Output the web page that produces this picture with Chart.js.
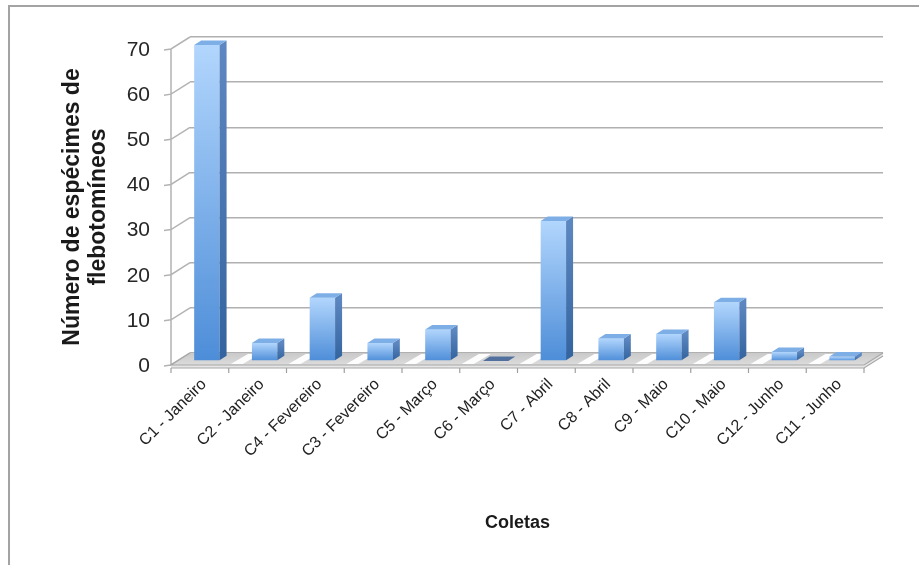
<!DOCTYPE html>
<html>
<head>
<meta charset="utf-8">
<title>Número de espécimes de flebotomíneos por coleta</title>
<script src="https://cdn.jsdelivr.net/npm/chart.js@4.4.0/dist/chart.umd.min.js"></script>
<style>
  html, body { margin: 0; padding: 0; background: #ffffff; }
  #wrap { width: 919px; height: 565px; position: relative; }
  canvas { display: block; }
</style>
</head>
<body>
<div id="wrap"><canvas id="chart" width="919" height="565"></canvas></div>
<script>
// ---- data ----
const categories = [
  'C1 - Janeiro', 'C2 - Janeiro', 'C4 - Fevereiro', 'C3 - Fevereiro',
  'C5 - Março', 'C6 - Março', 'C7 - Abril', 'C8 - Abril',
  'C9 - Maio', 'C10 - Maio', 'C12 - Junho', 'C11 - Junho'
];
const specimens = [70, 4, 14, 4, 7, 0, 31, 5, 6, 13, 2, 1];
const yTicks = [0, 10, 20, 30, 40, 50, 60, 70];
const yTitle = ['Número de espécimes de', 'flebotomíneos'];
const xTitle = 'Coletas';

// ---- 3D look ----
const FONT = "'Liberation Sans', Arial, Helvetica, sans-serif";
const WALL = { dx: -19, dy: 12 };          // back wall -> front edge of floor
const BAR = { fx: -12, fy: 8, dx: 7, dy: -4.5 }; // bar front offset and bar depth

const threeD = {
  id: 'threeD',
  beforeDraw(chart) {
    const { ctx, width, height } = chart;
    ctx.save();
    ctx.fillStyle = '#ffffff';
    ctx.fillRect(0, 0, width, height);
    // outer frame (top and left edges)
    ctx.strokeStyle = '#a3a3a3';
    ctx.lineWidth = 2;
    ctx.beginPath();
    ctx.moveTo(9, height);
    ctx.lineTo(9, 6);
    ctx.lineTo(width, 6);
    ctx.stroke();
    ctx.restore();
  },
  beforeDatasetsDraw(chart) {
    const { ctx, chartArea } = chart;
    const ys = chart.scales.y;
    const xs = chart.scales.x;
    const L = chartArea.left, R = chartArea.right;
    const y0 = ys.getPixelForValue(0);
    const yTop = ys.getPixelForValue(yTicks[yTicks.length - 1]);
    ctx.save();

    // left side wall: diagonal grid lines and ticks
    ctx.strokeStyle = '#b3b3b3';
    ctx.lineWidth = 1.5;
    ctx.beginPath();
    yTicks.forEach(v => {
      const y = ys.getPixelForValue(v);
      ctx.moveTo(L, y);
      ctx.lineTo(L + WALL.dx, y + WALL.dy);
      ctx.lineTo(L + WALL.dx - 7, y + WALL.dy + 1);
    });
    // front vertical axis line
    ctx.moveTo(L + WALL.dx, yTop + WALL.dy);
    ctx.lineTo(L + WALL.dx, y0 + WALL.dy);
    ctx.stroke();

    // floor surface
    const fy = y0 + WALL.dy;
    ctx.beginPath();
    ctx.moveTo(L, y0);
    ctx.lineTo(R, y0);
    ctx.lineTo(R + WALL.dx, fy);
    ctx.lineTo(L + WALL.dx, fy);
    ctx.closePath();
    const fg = ctx.createLinearGradient(0, y0, 0, fy);
    fg.addColorStop(0, '#c9c9c9');
    fg.addColorStop(1, '#dcdcdc');
    ctx.fillStyle = fg;
    ctx.fill();

    // light reflections on the floor between bars
    const meta = chart.getDatasetMeta(0);
    ctx.fillStyle = 'rgba(255,255,255,0.95)';
    meta.data.forEach((el, i) => {
      if (i === 0) return;
      const { x, width: w } = el.getProps(['x', 'width'], true);
      const bx = x - w / 2 - 2;        // back-plane x just left of bar
      ctx.beginPath();
      ctx.moveTo(bx - 14, y0 + 1);
      ctx.lineTo(bx - 2, y0 + 1);
      ctx.lineTo(bx - 2 + WALL.dx * 0.9, fy - 1);
      ctx.lineTo(bx - 14 + WALL.dx * 0.9, fy - 1);
      ctx.closePath();
      ctx.fill();
    });

    // floor front edge (thickness)
    ctx.fillStyle = '#e6e6e6';
    ctx.beginPath();
    ctx.moveTo(L + WALL.dx, fy);
    ctx.lineTo(R + WALL.dx, fy);
    ctx.lineTo(R, y0);
    ctx.lineTo(R, y0 + 3);
    ctx.lineTo(R + WALL.dx, fy + 3);
    ctx.lineTo(L + WALL.dx, fy + 3);
    ctx.closePath();
    ctx.fill();
    ctx.strokeStyle = '#a8a8a8';
    ctx.lineWidth = 1.2;
    ctx.beginPath();
    ctx.moveTo(L, y0);
    ctx.lineTo(L + WALL.dx, fy);
    ctx.lineTo(R + WALL.dx, fy);
    ctx.lineTo(R, y0);
    ctx.moveTo(L + WALL.dx, fy + 3);
    ctx.lineTo(R + WALL.dx, fy + 3);
    ctx.lineTo(R, y0 + 3);
    ctx.stroke();

    // category tick marks along the front edge
    ctx.strokeStyle = '#a0a0a0';
    ctx.lineWidth = 1.2;
    ctx.beginPath();
    const step = xs.getPixelForValue(1) - xs.getPixelForValue(0);
    for (let i = 0; i <= categories.length; i++) {
      const bx = (i < categories.length) ? xs.getPixelForValue(i) - step / 2 : R;
      ctx.moveTo(bx + WALL.dx, fy + 3);
      ctx.lineTo(bx + WALL.dx, fy + 8);
    }
    ctx.stroke();
    ctx.restore();

    // shift the bar fronts toward the viewer
    ctx.save();
    ctx.translate(BAR.fx, BAR.fy);
  },
  afterDatasetsDraw(chart) {
    const { ctx } = chart;
    ctx.restore();
    const meta = chart.getDatasetMeta(0);
    ctx.save();
    meta.data.forEach((el, i) => {
      const { x, y, base, width: w } = el.getProps(['x', 'y', 'base', 'width'], true);
      const xl = x - w / 2 + BAR.fx, xr = x + w / 2 + BAR.fx;
      const yt = y + BAR.fy, yb = base + BAR.fy;
      // side face
      if (yb - yt > 0.5) {
        ctx.beginPath();
        ctx.moveTo(xr, yt);
        ctx.lineTo(xr + BAR.dx, yt + BAR.dy);
        ctx.lineTo(xr + BAR.dx, yb + BAR.dy);
        ctx.lineTo(xr, yb);
        ctx.closePath();
        const sg = ctx.createLinearGradient(0, yt, 0, yb);
        sg.addColorStop(0, '#5d87c0');
        sg.addColorStop(1, '#33649f');
        ctx.fillStyle = sg;
        ctx.fill();
      }
      // top face
      ctx.beginPath();
      ctx.moveTo(xl, yt);
      ctx.lineTo(xl + BAR.dx, yt + BAR.dy);
      ctx.lineTo(xr + BAR.dx, yt + BAR.dy);
      ctx.lineTo(xr, yt);
      ctx.closePath();
      ctx.fillStyle = (specimens[i] === 0) ? '#51709e' : '#7eaee6';
      ctx.fill();
    });
    ctx.restore();
  },
  afterDraw(chart) {
    const { ctx, chartArea } = chart;
    const ys = chart.scales.y;
    ctx.save();
    ctx.fillStyle = '#1a1a1a';
    ctx.textAlign = 'center';
    ctx.textBaseline = 'middle';
    // vertical axis title, centred on the front axis
    const midY = (ys.getPixelForValue(0) + ys.getPixelForValue(70)) / 2 + WALL.dy;
    ctx.font = 'bold 23px ' + FONT;
    ctx.translate(73, midY);
    ctx.rotate(-Math.PI / 2);
    ctx.fillText(yTitle[0], 0, 0);
    ctx.fillText(yTitle[1], 0, 26);
    ctx.restore();
    // horizontal axis title, centred on the floor front edge
    ctx.save();
    ctx.fillStyle = '#1a1a1a';
    ctx.textAlign = 'center';
    ctx.textBaseline = 'middle';
    ctx.font = 'bold 18px ' + FONT;
    ctx.fillText(xTitle, (chartArea.left + chartArea.right) / 2 + WALL.dx, 523);
    ctx.restore();
  }
};

new Chart(document.getElementById('chart'), {
  type: 'bar',
  data: {
    labels: categories,
    datasets: [{
      data: specimens,
      clip: false,
      borderWidth: 0,
      barPercentage: 0.44,
      categoryPercentage: 1,
      backgroundColor(c) {
        const chart = c.chart;
        if (!chart.chartArea || c.type !== 'data') return '#6da6e8';
        const ys = chart.scales.y;
        const top = ys.getPixelForValue(specimens[c.dataIndex]);
        const base = ys.getPixelForValue(0);
        const g = chart.ctx.createLinearGradient(0, top, 0, Math.max(base, top + 1));
        g.addColorStop(0, '#b2d6fd');
        g.addColorStop(1, '#4d8dd8');
        return g;
      }
    }]
  },
  options: {
    responsive: false,
    animation: false,
    events: [],
    layout: { padding: { left: 0, top: 37, right: 36, bottom: 0 } },
    plugins: { legend: { display: false }, tooltip: { enabled: false } },
    scales: {
      x: {
        grid: { display: false },
        border: { display: false },
        ticks: {
          autoSkip: false,
          minRotation: 45,
          maxRotation: 45,
          labelOffset: -15,
          padding: 14,
          color: '#222222',
          font: { family: FONT, size: 16 }
        },
        afterFit(s) {
          s.height = 212;
          s.paddingLeft = 0; s.paddingRight = 0;
          s.paddingTop = 0; s.paddingBottom = 0;
        }
      },
      y: {
        min: 0,
        max: 70,
        afterBuildTicks(s) { s.ticks = yTicks.map(v => ({ value: v })); },
        grid: { color: '#b0b0b0', lineWidth: 1.5, drawTicks: false },
        border: { display: false },
        ticks: {
          padding: 40,
          labelOffset: 13,
          color: '#262626',
          font: { family: FONT, size: 21 }
        },
        afterFit(s) {
          s.width = 190;
          s.paddingLeft = 0; s.paddingRight = 0;
          s.paddingTop = 0; s.paddingBottom = 0;
        }
      }
    }
  },
  plugins: [threeD]
});
</script>
</body>
</html>
